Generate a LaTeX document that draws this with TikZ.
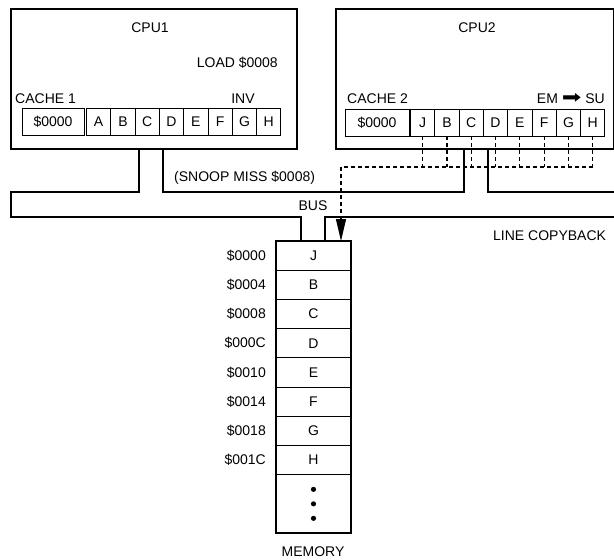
\documentclass[tikz,border=0pt]{standalone}
\usepackage{fontspec}
\setmainfont{Liberation Sans}
\newfontfamily\symfont{DejaVu Sans}
\usetikzlibrary{arrows.meta,positioning}
\tikzset{
  txt/.style={font=\fontsize{14}{16}\selectfont,inner sep=0pt},
  cpubox/.style={draw,line width=1.8pt,minimum width=286pt,minimum height=140pt,anchor=north west,inner sep=0pt},
  tagcell/.style={txt,draw,line width=.9pt,minimum height=27pt,outer sep=0pt,anchor=north west},
  cell/.style={txt,draw,line width=.9pt,minimum width=24.3pt,minimum height=27pt,outer sep=0pt},
  memcell/.style={txt,draw,line width=.9pt,minimum width=75pt,minimum height=29.2pt,outer sep=0pt},
  bus/.style={line width=1.3pt},
  snoop/.style={line width=1.1pt,dash pattern=on 4pt off 3pt}
}
\begin{document}
\begin{tikzpicture}[x=1pt,y=-1pt]
  \useasboundingbox (0,0) rectangle (614,560);
  % processors
  \node[cpubox] (cpu1) at (10,8) {};
  \node[cpubox,minimum width=278pt] (cpu2) at (335,8) {};
  \node[txt,anchor=base] (lcpu1) at (150,32.5) {CPU1};
  \node[txt,anchor=base east] (lload) at (278,67) {LOAD \$0008};
  \node[txt,anchor=base west] (lcache1) at (15,103) {CACHE 1};
  \node[txt,anchor=base] (linv) at (243,103) {INV};
  \node[txt,anchor=base] (lcpu2) at (477,32.5) {CPU2};
  \node[txt,anchor=base west] (lcache2) at (347,103) {CACHE 2};
  \node[txt,anchor=base east] (lstate) at (605,103) {EM {\symfont\fontsize{18}{18}\selectfont\scalebox{1.3}[1]{➡}} SU};

  % cache 1
  \node[tagcell,minimum width=62pt] (c1tag) at (22,108.5) {\$0000};
  \node[cell,right=2.5pt of c1tag] (c1a) {A};
  \node[cell,right=0pt of c1a] (c1b) {B};
  \node[cell,right=0pt of c1b] (c1c) {C};
  \node[cell,right=0pt of c1c] (c1d) {D};
  \node[cell,right=0pt of c1d] (c1e) {E};
  \node[cell,right=0pt of c1e] (c1f) {F};
  \node[cell,right=0pt of c1f] (c1g) {G};
  \node[cell,right=0pt of c1g] (c1h) {H};

  % cache 2
  \node[tagcell,minimum width=64pt] (c2tag) at (345,109) {\$0000};
  \node[cell,right=1.5pt of c2tag] (c2j) {J};
  \node[cell,right=0pt of c2j] (c2b) {B};
  \node[cell,right=0pt of c2b] (c2c) {C};
  \node[cell,right=0pt of c2c] (c2d) {D};
  \node[cell,right=0pt of c2d] (c2e) {E};
  \node[cell,right=0pt of c2e] (c2f) {F};
  \node[cell,right=0pt of c2f] (c2g) {G};
  \node[cell,right=0pt of c2g] (c2h) {H};

  % memory
  \node[memcell,anchor=north west] (m0) at (276,241) {J};
  \node[memcell,below=0pt of m0] (m1) {B};
  \node[memcell,below=0pt of m1] (m2) {C};
  \node[memcell,below=0pt of m2] (m3) {D};
  \node[memcell,below=0pt of m3] (m4) {E};
  \node[memcell,below=0pt of m4] (m5) {F};
  \node[memcell,below=0pt of m5] (m6) {G};
  \node[memcell,below=0pt of m6] (m7) {H};
  \node[memcell,below=0pt of m7,minimum height=58.5pt] (mdots) {};
  \draw[line width=1.5pt] (m0.north west) rectangle (mdots.south east);
  \fill (mdots.center) circle (2.6pt) ++(0,-14.5) circle (2.6pt) ++(0,29) circle (2.6pt);
  \node[txt,left=10pt of m0] (a0) {\$0000};
  \node[txt,left=10pt of m1] (a1) {\$0004};
  \node[txt,left=10pt of m2] (a2) {\$0008};
  \node[txt,left=10pt of m3] (a3) {\$000C};
  \node[txt,left=10pt of m4] (a4) {\$0010};
  \node[txt,left=10pt of m5] (a5) {\$0014};
  \node[txt,left=10pt of m6] (a6) {\$0018};
  \node[txt,left=10pt of m7] (a7) {\$001C};
  \node[txt,anchor=base] (lmem) at (313,556) {MEMORY};

  % bus
  \coordinate (busT) at (0,192);
  \coordinate (busB) at (0,217);
  \coordinate (busL) at (11,0);
  \coordinate (busR) at (614,0);
  \coordinate (p1) at (139,0);
  \coordinate (p2) at (163,0);
  \coordinate (p3) at (464,0);
  \coordinate (p4) at (488,0);
  \coordinate (q1) at (301,0);
  \coordinate (q2) at (325,0);
  \draw[bus] (cpu1.south -| p1) -- (p1 |- busT) -| (busL |- busB) -| (m0.north -| q1);
  \draw[bus] (cpu1.south -| p2) |- (busT -| p3) -- (cpu2.south -| p3);
  \draw[bus] (cpu2.south -| p4) |- (busT -| busR);
  \draw[bus] (m0.north -| q2) |- (busB -| busR);
  \node[txt,anchor=base west] (lsnoop) at (174,181.5) {(SNOOP MISS \$0008)};
  \node[txt,anchor=base] (lbus) at (313,210) {BUS};
  \node[txt,anchor=base west] (lcopy) at (493,240) {LINE COPYBACK};

  % copyback
  \coordinate (rail) at (0,167);
  \coordinate (drop) at (341,0);
  \draw[snoop] (c2j.south) -- (c2j.south |- rail);
  \draw[snoop] (c2b.south) -- (c2b.south |- rail);
  \draw[snoop] (c2c.south) -- (c2c.south |- rail);
  \draw[snoop] (c2d.south) -- (c2d.south |- rail);
  \draw[snoop] (c2e.south) -- (c2e.south |- rail);
  \draw[snoop] (c2f.south) -- (c2f.south |- rail);
  \draw[snoop] (c2g.south) -- (c2g.south |- rail);
  \draw[snoop] (c2h.south) -- (c2h.south |- rail);
  \draw[snoop,-{Triangle[length=22pt,width=10pt]}] (c2h.south |- rail) -- (rail -| drop) -- (m0.north -| drop);
\end{tikzpicture}
\end{document}
